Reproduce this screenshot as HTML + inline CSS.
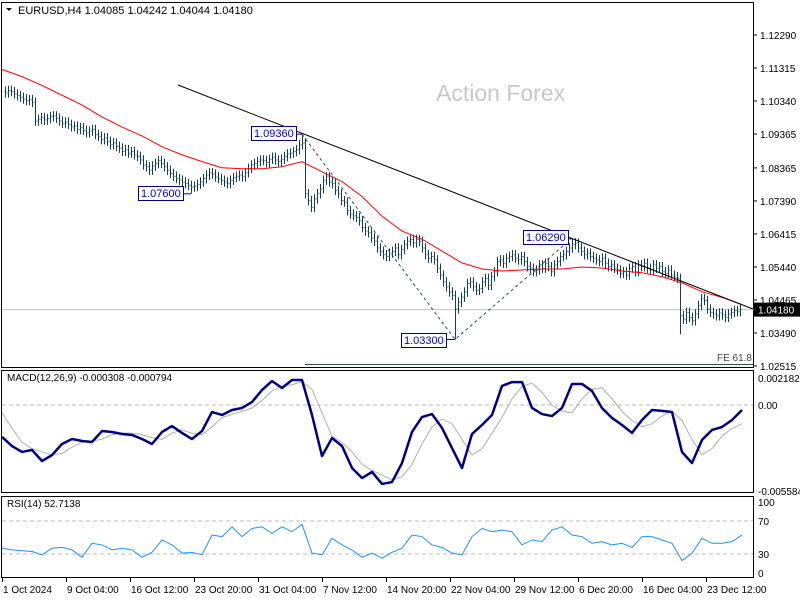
<!DOCTYPE html>
<html><head><meta charset="utf-8"><style>
body{margin:0;background:#fff;}
svg{display:block;font-family:"Liberation Sans",sans-serif;}
</style></head><body>
<svg id="c" width="800" height="600" viewBox="0 0 800 600"></svg>
<script>
// price data in pips above 1.0000 (e.g. 1060 = 1.1060)
const closes=[1058,1065,1062,1055,1050,1045,1040,1035,1038,1030,975,980,985,978,982,988,990,983,975,968,972,965,958,960,950,955,948,940,945,950,935,930,920,925,915,905,910,900,895,885,890,880,885,875,870,860,845,840,830,842,850,858,850,840,830,820,812,805,800,795,790,785,780,782,788,795,805,815,822,818,810,805,800,795,790,800,808,812,815,810,822,835,845,850,855,860,858,852,862,868,860,855,862,870,878,880,885,890,905,910,760,740,720,745,760,775,800,810,795,790,770,760,740,735,710,700,695,690,680,660,650,645,630,620,600,590,580,575,585,590,600,580,595,610,620,625,615,625,620,600,580,570,575,565,540,520,500,485,470,460,420,440,455,470,495,500,485,475,480,500,510,490,515,530,560,565,555,570,575,580,570,565,575,560,545,540,530,535,550,540,555,545,530,550,560,575,580,590,600,610,615,600,590,580,585,575,570,565,560,570,555,545,550,540,535,525,530,520,540,545,530,550,545,555,540,535,550,540,545,530,525,535,520,515,510,400,390,410,395,385,405,430,450,445,420,410,405,400,408,402,395,405,410,415,412,418];
const extremeIdx=[62,99,150,189,225];
const extremeVal=[760,936,330,629,345];
const maVals=[1127,1106,1080,1051,1022,987,957,931,899,875,855,837,834,834,840,855,825,796,752,694,650,626,591,556,538,532,535,538,538,544,541,532,527,515,497,471,454,433];
const macdMain=[-20.5,-26.3,-30.1,-28.8,-35.9,-32.1,-25.0,-21.8,-23.1,-23.7,-16.7,-17.3,-18.6,-19.2,-21.8,-25.0,-17.3,-13.5,-17.9,-21.8,-16.7,-4.5,-6.4,-3.2,-1.9,1.9,9.6,15.4,10.9,16.0,16.0,-6.4,-32.7,-21.2,-26.3,-40.4,-46.8,-42.9,-50.6,-49.4,-37.2,-17.3,-7.7,-5.8,-14.7,-27.6,-40.4,-18.6,-12.8,-6.4,12.2,14.7,14.7,-1.9,-5.8,-7.1,-1.9,13.5,13.5,9.0,-1.9,-8.3,-12.8,-17.9,-9.6,-3.2,-3.8,-4.5,-30.1,-37.2,-22.4,-16.0,-14.1,-9.6,-3.2];
const macdSignal=[-5,-15,-24,-28,-30,-32,-31,-27,-24,-23,-22,-19,-18,-18,-19,-21,-22,-18,-16,-18,-19,-14,-8,-6,-4,-2,3,9,12,13,15,10,-5,-20,-24,-30,-38,-42,-45,-48,-46,-38,-25,-14,-9,-12,-22,-32,-28,-18,-8,4,12,14,8,0,-4,-5,4,10,11,4,-4,-10,-14,-12,-7,-4,-10,-22,-32,-28,-20,-15,-12];
const rsiVals=[37,35,34,33,29,37,38,35,26,43,41,35,37,35,26,32,47,41,31,32,29,53,51,63,51,61,63,55,63,57,66,31,29,49,41,35,26,31,25,32,37,53,51,41,38,31,29,51,61,57,59,57,41,47,45,59,63,53,51,43,45,41,43,38,51,51,47,43,22,31,49,43,43,45,53];
const priceTicks=["1.12290","1.11315","1.10340","1.09365","1.08365","1.07390","1.06415","1.05440","1.04465","1.03490","1.02515"];
const dateLabels=["1 Oct 2024","9 Oct 04:00","16 Oct 12:00","23 Oct 20:00","31 Oct 04:00","7 Nov 12:00","14 Nov 20:00","22 Nov 04:00","29 Nov 12:00","6 Dec 20:00","16 Dec 04:00","23 Dec 12:00"];

const NS="http://www.w3.org/2000/svg";
const svg=document.getElementById('c');
function el(t,a,p){const e=document.createElementNS(NS,t);for(const k in a)e.setAttribute(k,a[k]);(p||svg).appendChild(e);return e;}
const py=p=>366-(p-251.5)/2.953;
const bx=i=>5+3*i;
const my=v=>405-v*1.56;
const ry=v=>554-(v-30)*0.825;
const sx=i=>10*i;

let e;
e=el('rect',{x:1.5,y:2.5,width:752,height:365,fill:'none',stroke:'#000'});


e=el('rect',{x:1.5,y:370.5,width:752,height:122,fill:'none',stroke:'#000'});


e=el('rect',{x:1.5,y:496.5,width:752,height:81,fill:'none',stroke:'#000'});



e=el('text',{x:436,y:101,'font-size':23,fill:'#c8c8c8'});e.textContent='Action Forex';



e=el('path',{d:'M6 8 L12 8 L9 11 Z',fill:'#000'});


e=el('text',{x:18,y:14,'font-size':11,fill:'#000'});e.textContent='EURUSD,H4  1.04085 1.04242 1.04044 1.04180';



priceTicks.forEach((t,k)=>{
  const y=py(parseFloat(t)*10000-10000);
  let l=el('line',{x1:754,x2:757,y1:y,y2:y,stroke:'#000'});
  
  
  let tx=el('text',{x:760,y:y+4,'font-size':10,fill:'#000'});tx.textContent=t;
  
  
});

const last=closes[closes.length-1];
e=el('line',{x1:2,x2:754,y1:py(last),y2:py(last),stroke:'#c0c0c0'});


e=el('rect',{x:754,y:py(last)-7,width:46,height:14,fill:'#000'});


e=el('text',{x:758,y:py(last)+4,'font-size':10,fill:'#fff'});e.textContent='1.04180';



e=el('line',{x1:305,x2:753,y1:364.5,y2:364.5,stroke:'#2f4f4f'});


e=el('text',{x:752,y:361,'font-size':10,fill:'#444','text-anchor':'end'});e.textContent='FE 61.8';



const bg=el('g',{stroke:'#123f55','stroke-width':1});


closes.forEach((c,i)=>{
  const o=i>0?closes[i-1]:c+5;
  let hi=Math.max(o,c)+14,lo=Math.min(o,c)-14;
  const k=extremeIdx.indexOf(i);
  if(k>=0){if(extremeVal[k]>c)hi=extremeVal[k];else lo=extremeVal[k];}
  const x=bx(i)+0.5;
  const b=el('path',{d:`M${x} ${py(hi)}V${py(lo)}M${x-1} ${py(o)}H${x}M${x} ${py(c)}H${x+1}`},bg);
  
  
});

e=el('polyline',{points:maVals.map((v,i)=>`${2+20*i},${py(v)}`).join(' '),fill:'none',stroke:'#ff0000','stroke-width':1});



e=el('line',{x1:178,y1:85,x2:753,y2:309,stroke:'#000'});


e=el('polyline',{points:`${bx(99)},${py(936)} ${bx(150)},${py(330)} ${bx(189)},${py(629)}`,fill:'none',stroke:'#2f4f4f','stroke-dasharray':'3,3'});



const piv=[[251,'1.09360',99,936,-8],[138,'1.07600',62,760,-8],[401,'1.03300',150,330,-6],[523,'1.06290',189,629,-8]];
piv.forEach(p=>{
  const y=py(p[3]);
  const l=el('line',{x1:p[0]+46,y1:y,x2:bx(p[2]),y2:y,stroke:'#000080'});
  
  
  const by=y+p[4];
  const r=el('rect',{x:p[0]+0.5,y:Math.round(by)+0.5,width:45,height:14,fill:'#fff',stroke:'#000080'});
  
  
  const t=el('text',{x:p[0]+3,y:Math.round(by)+11,'font-size':11,fill:'#0000cc'});t.textContent=p[1];
  
  
});

e=el('line',{x1:2,x2:753,y1:405,y2:405,stroke:'#bbb','stroke-dasharray':'4,3'});


e=el('polyline',{points:macdSignal.map((v,i)=>`${sx(i)+2},${my(v)}`).join(' '),fill:'none',stroke:'#b0b0b0','stroke-width':1});


e=el('polyline',{points:macdMain.map((v,i)=>`${sx(i)+2},${my(v)}`).join(' '),fill:'none',stroke:'#000080','stroke-width':2.5,'stroke-linejoin':'round'});


e=el('text',{x:7,y:381,'font-size':10,fill:'#000'});e.textContent='MACD(12,26,9) -0.000308 -0.000794';


[['0.002182',378],['0.00',405],['-0.005584',491]].forEach(a=>{
  const t=el('text',{x:758,y:a[1]+4,'font-size':10,fill:'#000'});t.textContent=a[0];
  
  
});

[70,30].forEach(v=>{
  const l=el('line',{x1:2,x2:753,y1:ry(v),y2:ry(v),stroke:'#bbb','stroke-dasharray':'4,3'});
  
  
});
e=el('polyline',{points:rsiVals.map((v,i)=>`${sx(i)+2},${ry(v)}`).join(' '),fill:'none',stroke:'#1e90ff','stroke-width':1});


e=el('text',{x:7,y:507,'font-size':10,fill:'#000'});e.textContent='RSI(14) 52.7138';


[['100',502],['70',521],['30',554],['0',573]].forEach(a=>{
  const t=el('text',{x:758,y:a[1]+4,'font-size':10,fill:'#000'});t.textContent=a[0];
  
  
});

dateLabels.forEach((d,k)=>{
  const x=2+64*k;
  const l=el('line',{x1:x+0.5,x2:x+0.5,y1:578,y2:582,stroke:'#000'});
  
  
  const t=el('text',{x:x+1,y:593,'font-size':10,fill:'#000'});t.textContent=d;
  
  
});
</script>
</body></html>
